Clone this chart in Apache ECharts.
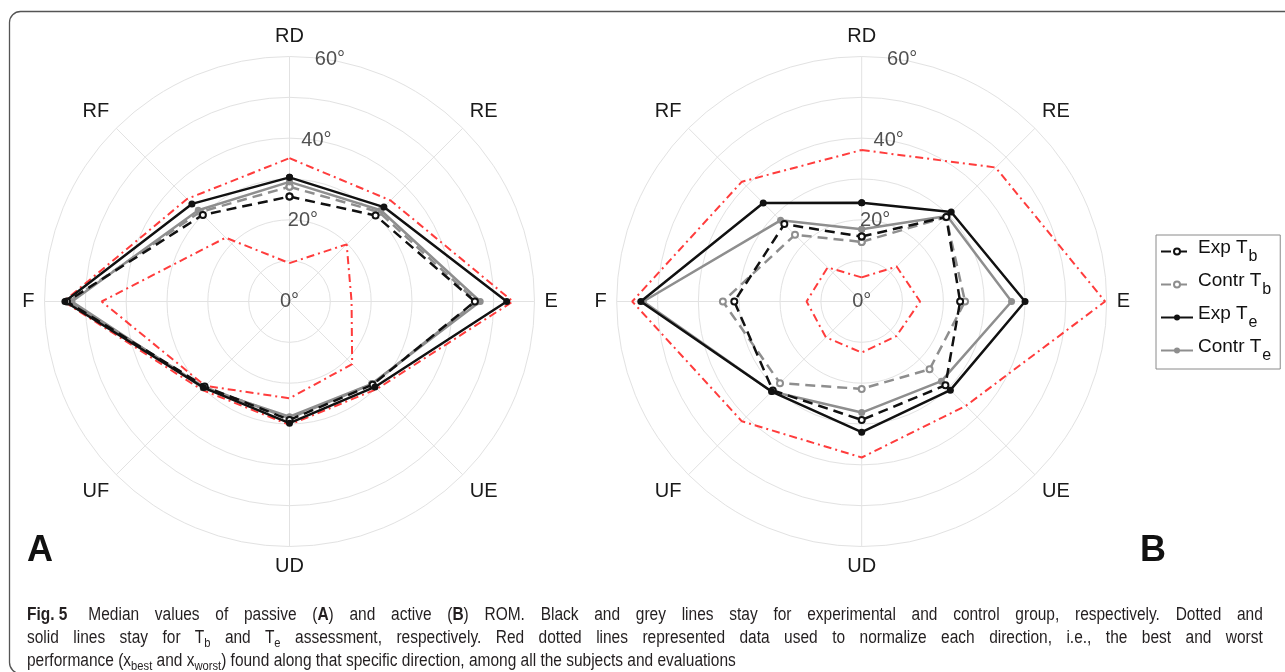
<!DOCTYPE html>
<html>
<head>
<meta charset="utf-8">
<script src="https://cdn.jsdelivr.net/npm/echarts@6/dist/echarts.min.js"></script>
<style>
  html, body { margin: 0; padding: 0; background: #fff; }
  #wrap { position: relative; width: 1285px; height: 672px; overflow: hidden; }
  #chart { position: absolute; left: 0; top: 0; width: 1285px; height: 672px; }
  #capbox { position: absolute; left: 27px; top: 603px; width: 1437px; transform: scaleX(0.86); transform-origin: 0 0; }
  .cap { width: 1437px; height: 23px; font-family: 'Liberation Sans', Arial, sans-serif;
         font-size: 18px; line-height: 22px; color: #231f20; white-space: nowrap; }
  .just { text-align: justify; text-align-last: justify; }
  .cap b { font-weight: bold; }
  .cap .fig { display: inline-block; margin-right: 6px; font-weight: bold; }
  .cap sub { font-size: 13px; vertical-align: -4px; line-height: 0; }
</style>
</head>
<body>
<div id="wrap">
  <div id="chart"></div>
  <div id="capbox">
    <div class="cap just"><span class="fig">Fig.&#160;5</span> Median values of passive (<b>A</b>) and active (<b>B</b>) ROM. Black and grey lines stay for experimental and control group, respectively. Dotted and</div>
    <div class="cap just">solid lines stay for T<sub>b</sub> and T<sub>e</sub> assessment, respectively. Red dotted lines represented data used to normalize each direction, i.e., the best and worst</div>
    <div class="cap">performance (x<sub>best</sub> and x<sub>worst</sub>) found along that specific direction, among all the subjects and evaluations</div>
  </div>
</div>
<script>
// ---- data ----
const directions = ['RD', 'RE', 'E', 'UE', 'UD', 'UF', 'F', 'RF'];   // clockwise from top
const dirAngles = [0, 45, 90, 135, 180, 225, 270, 315];
const radialTicks = [0, 20, 40, 60];
const tickLabels = ['0°', '20°', '40°', '60°'];

const legendNames = ['Exp Tb', 'Contr Tb', 'Exp Te', 'Contr Te'];
const legendMain = ['Exp T', 'Contr T', 'Exp T', 'Contr T'];
const legendSub = ['b', 'b', 'e', 'e'];

// Panel A (passive ROM)
const aBest    = [35.1, 35.0, 54.7, 30.3, 30.2, 30.5, 55.3, 35.5];
const aWorst   = [9.4, 19.8, 15.2, 21.7, 23.7, 29.2, 46.0, 22.1];
const aExpTb   = [25.7, 29.8, 45.4, 28.8, 29.0, 29.4, 54.5, 30.0];
const aContrTb = [28.1, 31.0, 45.8, 28.6, 28.6, 29.6, 54.0, 31.0];
const aExpTe   = [30.4, 32.7, 53.2, 29.6, 29.8, 29.8, 55.0, 33.8];
const aContrTe = [29.3, 31.6, 46.7, 28.5, 28.2, 29.9, 53.3, 31.6];

// Panel B (active ROM)
const bBest    = [37.1, 46.4, 59.6, 36.1, 38.2, 41.5, 56.2, 41.5];
const bWorst   = [5.9, 12.1, 14.3, 12.0, 12.5, 12.4, 13.5, 11.8];
const bExpTb   = [15.9, 29.3, 24.1, 29.0, 29.0, 30.8, 31.2, 26.8];
const bContrTb = [14.6, 29.2, 25.3, 23.5, 21.4, 28.3, 34.0, 23.1];
const bExpTe   = [24.2, 31.0, 40.0, 30.7, 32.0, 31.2, 54.1, 34.1];
const bContrTe = [17.7, 29.6, 36.7, 27.6, 27.2, 31.2, 53.5, 28.1];

// ---- helpers ----
const FONT = "'Liberation Sans', Arial, Helvetica, sans-serif";
const BLACK = '#111111', GREY = '#8e8e8e', RED = '#ff3c3c', GRID = '#e2e2e2';

function closedPolygon(vals) {
  const pts = vals.map((v, i) => [v, dirAngles[i]]);
  pts.push([vals[0], 360]);
  return pts;
}

function panelSeries(pi, best, worst, expTb, contrTb, expTe, contrTe) {
  const redLine = { color: RED, width: 2, type: [8, 4, 2, 4] };
  const mk = (name, data, color, dashed, empty, size, z) => ({
    name, type: 'line', coordinateSystem: 'polar', polarIndex: pi,
    data: closedPolygon(data),
    symbol: empty ? 'emptyCircle' : 'circle',
    symbolSize: size, showSymbol: true,
    lineStyle: { color, width: 2.5, type: dashed ? [10, 6] : 'solid' },
    itemStyle: { color, borderColor: color, borderWidth: empty ? 1.8 : 0 },
    z, silent: true, animation: false
  });
  return [
    { name: 'best', type: 'line', coordinateSystem: 'polar', polarIndex: pi, data: closedPolygon(best),
      symbol: 'none', lineStyle: redLine, z: 2, silent: true, animation: false },
    { name: 'worst', type: 'line', coordinateSystem: 'polar', polarIndex: pi, data: closedPolygon(worst),
      symbol: 'none', lineStyle: redLine, z: 2, silent: true, animation: false },
    mk('Contr Tb', contrTb, GREY, true, true, 6, 3),
    mk('Contr Te', contrTe, GREY, false, false, 7, 3),
    mk('Exp Tb', expTb, BLACK, true, true, 6, 4),
    mk('Exp Te', expTe, BLACK, false, false, 7, 4),
    { name: 'ticks', type: 'scatter', coordinateSystem: 'polar', polarIndex: pi,
      data: radialTicks.map(t => [t, 9.5]),
      symbol: 'circle', symbolSize: 1, itemStyle: { color: 'rgba(0,0,0,0)' },
      label: { show: true, position: 'inside', fontFamily: FONT, fontSize: 20, color: '#262626',
               formatter: p => tickLabels[p.dataIndex] },
      z: 6, silent: true, animation: false }
  ];
}

function polarAxes(pi) {
  return {
    angle: {
      polarIndex: pi, type: 'value', min: 0, max: 360, interval: 45, startAngle: 90, clockwise: true,
      axisLine: { show: false }, axisTick: { show: false },
      splitLine: { show: true, lineStyle: { color: GRID, width: 1 } },
      axisLabel: { show: true, margin: 10, fontFamily: FONT, fontSize: 20, color: '#1a1a1a',
        formatter: v => { const i = dirAngles.indexOf(v); return i >= 0 ? directions[i] : ''; } }
    },
    radius: {
      polarIndex: pi, type: 'value', min: 0, max: 60, interval: 10,
      axisLine: { show: false }, axisTick: { show: false }, axisLabel: { show: false },
      splitLine: { show: true, lineStyle: { color: GRID, width: 1 } }
    }
  };
}

const pa = polarAxes(0), pb = polarAxes(1);

const option = {
  backgroundColor: '#ffffff',
  animation: false,
  polar: [
    { center: [289.5, 301.5], radius: 245 },
    { center: [861.7, 301.5], radius: 245 }
  ],
  angleAxis: [pa.angle, pb.angle],
  radiusAxis: [pa.radius, pb.radius],
  legend: {
    data: legendNames,
    orient: 'vertical', left: 1156, top: 235,
    itemWidth: 32, itemHeight: 7.5, itemGap: 6,
    padding: [3, 9, 5, 4],
    borderColor: '#8a8a8a', borderWidth: 1, borderRadius: 0,
    selectedMode: false,
    formatter: name => {
      const i = legendNames.indexOf(name);
      return '{a|' + legendMain[i] + '}{s|' + legendSub[i] + '}';
    },
    textStyle: {
      fontFamily: FONT, color: '#111',
      rich: {
        a: { fontFamily: FONT, fontSize: 19, lineHeight: 20, padding: [0, 0, 8, 0], color: '#111' },
        s: { fontFamily: FONT, fontSize: 16, lineHeight: 17, padding: [11, 0, 0, 1], color: '#111' }
      }
    }
  },
  graphic: [
    { type: 'rect', shape: { x: 9.5, y: 11.5, width: 1320, height: 662, r: 11 },
      style: { fill: 'none', stroke: '#555', lineWidth: 1.3 }, silent: true, z: 0 },
    { type: 'text', x: 27, y: 551, style: { text: 'A', font: "bold 36px 'Liberation Sans', Arial, sans-serif",
      fill: '#111', verticalAlign: 'middle', align: 'left' }, silent: true },
    { type: 'text', x: 1140, y: 551, style: { text: 'B', font: "bold 36px 'Liberation Sans', Arial, sans-serif",
      fill: '#111', verticalAlign: 'middle', align: 'left' }, silent: true }
  ],
  series: panelSeries(0, aBest, aWorst, aExpTb, aContrTb, aExpTe, aContrTe)
    .concat(panelSeries(1, bBest, bWorst, bExpTb, bContrTb, bExpTe, bContrTe))
};

const chart = echarts.init(document.getElementById('chart'), null, { renderer: 'canvas' });
chart.setOption(option);
</script>
</body>
</html>
